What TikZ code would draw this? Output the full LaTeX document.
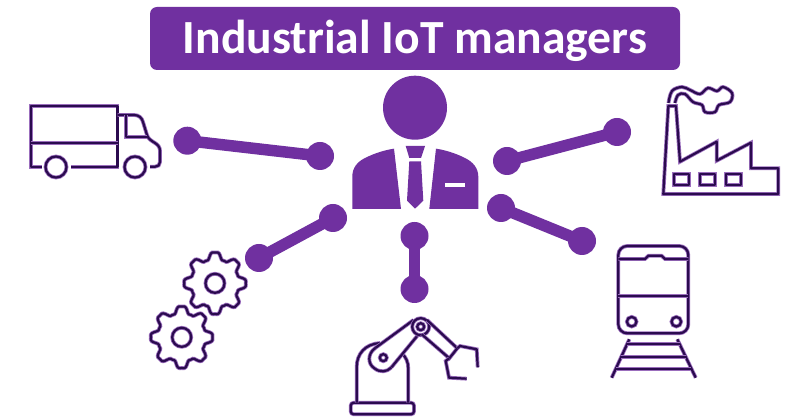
\documentclass[tikz,border=0pt]{standalone}
\usepackage{fontspec}
\setmainfont{Carlito}
\definecolor{pur}{HTML}{7030A0}
\definecolor{dk}{HTML}{2B0B4F}
\tikzset{
  icon/.style={draw=dk,line width=2.2pt,line join=round,preaction={draw=pur!70,line width=3.8pt}},
  hub/.style={circle,fill=pur,inner sep=0pt,minimum size=#1},
  link/.style={draw=pur,line width=11.5pt},
  fillshape/.style={fill=pur,draw=none},
}
\newcommand{\gearicon}[2]{%
  \draw[icon] plot[domain=0:360,samples=145] ({#1+(27.5+4*(cos(8*\x)-0.18*cos(24*\x)))*cos(\x)},{#2+(27.5+4*(cos(8*\x)-0.18*cos(24*\x)))*sin(\x)}) -- cycle;
  \draw[icon] (#1,#2) circle (9.5pt);
}
\begin{document}
\begin{tikzpicture}[x=1pt,y=-1pt]
\useasboundingbox[fill=white] (0,0) rectangle (790,419);
% title
\node[fill=pur,rounded corners=7pt,minimum width=530pt,minimum height=63pt,inner sep=0pt] (title) at (415,38.5) {};
\node[text=white,inner sep=0pt,font=\bfseries\fontsize{47.6}{50}\selectfont] (titletext) at (415,41) {Industrial IoT managers};
% person
\fill[fillshape] (415,107.7) circle (32pt);
\fill[fillshape] (352.3,209) -- (352.3,176.7) .. controls (352.3,168) and (357,162) .. (365,158) .. controls (375,153) and (385,150) .. (394,148.7) -- (401,209) -- cycle;
\fill[fillshape] (478.3,209) -- (478.3,176.7) .. controls (478.3,168) and (473,162) .. (465,158) .. controls (455,153) and (445,150) .. (436,148.7) -- (429.3,209) -- cycle;
\fill[fillshape] (405.7,146) -- (425,146) -- (421,158) -- (409.3,158) -- cycle;
\fill[fillshape] (409.3,161.3) -- (421,161.3) -- (423.3,200.7) -- (415,208.7) -- (407,200.7) -- cycle;
\fill[white] (445,183.3) rectangle (464.7,187.3);
% connectors
\node[hub=28pt] (a1) at (187.3,140.7) {};
\node[hub=28pt] (a2) at (320,156) {};
\draw[link] (a1.center) -- (a2.center);
\node[hub=28pt] (b1) at (507,161) {};
\node[hub=28pt] (b2) at (617,132) {};
\draw[link] (b1.center) -- (b2.center);
\node[hub=28pt] (c1) at (501,208) {};
\node[hub=28pt] (c2) at (582,241) {};
\draw[link] (c1.center) -- (c2.center);
\node[hub=28pt] (d1) at (414.5,236) {};
\node[hub=28pt] (d2) at (414.5,289) {};
\draw[link] (d1.center) -- (d2.center);
\node[hub=28pt] (e1) at (333,218) {};
\node[hub=28pt] (e2) at (259,258) {};
\draw[link] (e1.center) -- (e2.center);
% truck
\draw[icon] (42,166.7) -- (30.7,166.7) -- (30.7,106) -- (117.5,106) -- (117.5,166.7) -- (71,166.7);
\draw[icon] (30.7,143.3) -- (117.5,143.3);
\draw[icon] (56,167) circle (10.5pt);
\draw[icon] (135,167) circle (10.5pt);
\draw[icon] (117.5,115) -- (134,115) .. controls (139,115) and (142,118) .. (143,122) -- (147,135) .. controls (148,139) and (152,141) .. (155,143) .. controls (158,145) and (160,147) .. (160,151) -- (160,162) .. controls (160,165) and (158,166.7) .. (155,166.7) -- (150,166.7);
\draw[icon] (126,115) -- (126,137) -- (147,137);
% factory
\draw[icon] (668.3,106) -- (676,106) -- (680,161.7) -- (716.7,141.7) -- (716.7,160.7) -- (751,142.7) -- (751,168.3) -- (778.3,168.3) -- (778.3,194) -- (663.3,194) -- cycle;
\draw[icon] (674.3,174.3) rectangle (689,185);
\draw[icon] (700.3,174.3) rectangle (715,185);
\draw[icon] (726.3,174.3) rectangle (741,185);
\draw[icon] plot[smooth,tension=0.6] coordinates {(668.5,103) (672,91) (682,87) (690,90) (700,94) (708,88) (717,91) (723,87) (732,93) (730,102) (719,105) (715,112) (705,112) (702,105) (693,102) (685,94) (678,95) (675,103)};
% train
\draw[icon,rounded corners=9pt] (618.3,246) rectangle (688.3,333.3);
\draw[icon] (618.3,259) -- (645,259) -- (648.5,255.7) -- (661.5,255.7) -- (665,259) -- (688.3,259);
\draw[icon] (618.3,295.7) -- (688.3,295.7);
\draw[icon] (631.7,321.7) circle (4.8pt);
\draw[icon] (676.3,321.7) circle (4.8pt);
\draw[icon] (629.3,339.3) -- (611.7,377.7);
\draw[icon] (677.3,339.3) -- (695.7,377.7);
\draw[icon] (627.3,344.3) -- (680,344.3);
\draw[icon] (620.7,357) -- (686,357);
\draw[icon] (616,369) -- (690.7,369);
% robot
\draw[icon,rounded corners=3pt] (350.7,402.7) rectangle (414,414.3);
\draw[icon] (356.7,402.7) -- (356.7,367) .. controls (356.7,354) and (365,344) .. (380,343);
\draw[icon] (408.3,402.7) -- (408.3,369) .. controls (408.3,362) and (406,357) .. (401.7,353.3);
\draw[icon] (375.3,348) -- (413.5,320) (391.3,367.5) -- (418,335);
\draw[icon] (375.3,348) .. controls (367,354) and (368,364) .. (374,368) .. controls (380,373) and (387,372) .. (391.3,367.5);
\draw[icon] (420.7,326.7) circle (8.5pt);
\draw[icon] (420.7,326.7) circle (3.5pt);
\draw[icon] (383.3,357.7) circle (3.5pt);
\draw[icon] (427,320) -- (457.3,348.3) -- (449.3,358.3) -- (421.7,334.3);
\draw[icon] (457.3,348.3) -- (460,346) -- (476.7,349.3) -- (477.7,367.3);
\draw[icon] (449.3,358.3) -- (445.7,361) -- (449,377.7) -- (466.7,378.7);
% gears
\gearicon{215}{283.3}
\gearicon{181.7}{337.3}
\end{tikzpicture}
\end{document}
